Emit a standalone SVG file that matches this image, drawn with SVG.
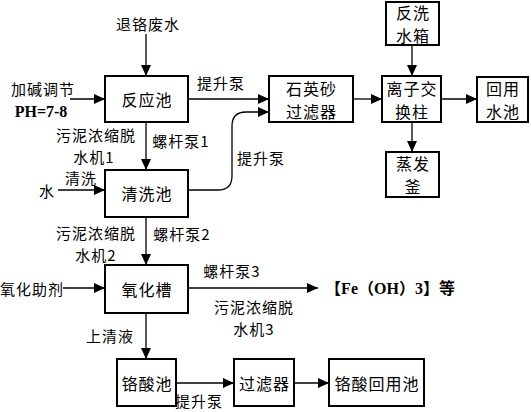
<svg xmlns="http://www.w3.org/2000/svg" width="531" height="412" viewBox="0 0 531 412">
<style>
.box{fill:#fff;stroke:#000;stroke-width:2}
.ln{fill:none;stroke:#000;stroke-width:1.3}
text{font-family:"Noto Sans CJK SC","Liberation Serif",serif;font-size:15px;letter-spacing:1px;fill:#000;text-anchor:middle;dominant-baseline:central}
.bt{font-size:16px;letter-spacing:1px}
.lat{font-family:"Liberation Serif","Noto Sans CJK SC",serif;font-weight:bold;font-size:16px;letter-spacing:0}
</style>
<defs>
<marker id="ah" markerUnits="userSpaceOnUse" markerWidth="12" markerHeight="10" refX="11" refY="5" orient="auto">
<path d="M0,0 L11,5 L0,10 Z" fill="#000"/>
</marker>
</defs>
<g id="connectors">
<line class="ln" x1="146" y1="34" x2="146" y2="76" marker-end="url(#ah)"/>
<line class="ln" x1="70" y1="99" x2="105" y2="99" marker-end="url(#ah)"/>
<line class="ln" x1="188" y1="99" x2="269" y2="99" marker-end="url(#ah)"/>
<path class="ln" d="M188,190 L218,190 Q232,190 232,176 L232,126 Q232,112 246,112 L269,112" marker-end="url(#ah)"/>
<line class="ln" x1="146" y1="122" x2="146" y2="170" marker-end="url(#ah)"/>
<line class="ln" x1="58" y1="190" x2="105" y2="190" marker-end="url(#ah)"/>
<line class="ln" x1="146" y1="217" x2="146" y2="265" marker-end="url(#ah)"/>
<line class="ln" x1="63" y1="288" x2="105" y2="288" marker-end="url(#ah)"/>
<line class="ln" x1="188" y1="288" x2="318" y2="288" marker-end="url(#ah)"/>
<line class="ln" x1="146" y1="313" x2="146" y2="359" marker-end="url(#ah)"/>
<line class="ln" x1="176" y1="383" x2="234" y2="383" marker-end="url(#ah)"/>
<line class="ln" x1="294" y1="383" x2="329" y2="383" marker-end="url(#ah)"/>
<line class="ln" x1="353" y1="99" x2="382" y2="99" marker-end="url(#ah)"/>
<line class="ln" x1="412" y1="45" x2="412" y2="76" marker-end="url(#ah)"/>
<line class="ln" x1="412" y1="122" x2="412" y2="152" marker-end="url(#ah)"/>
<line class="ln" x1="441" y1="99" x2="477" y2="99" marker-end="url(#ah)"/>
</g>
<g id="labels">
<text x="148" y="23">退铬废水</text>
<text x="43" y="88">加碱调节</text>
<text x="41" y="111" class="lat">PH=7-8</text>
<text x="221" y="82">提升泵</text>
<text x="96" y="134">污泥浓缩脱</text>
<text x="94" y="156">水机1</text>
<text x="181" y="140">螺杆泵1</text>
<text x="261" y="157">提升泵</text>
<text x="81" y="177">清洗</text>
<text x="47" y="190">水</text>
<text x="96" y="232">污泥浓缩脱</text>
<text x="96" y="254">水机2</text>
<text x="182" y="233">螺杆泵2</text>
<text x="32" y="288">氧化助剂</text>
<text x="232" y="270">螺杆泵3</text>
<text x="390" y="288" class="lat">【Fe（OH）3】等</text>
<text x="254" y="306">污泥浓缩脱</text>
<text x="254" y="328">水机3</text>
<text x="110" y="335">上清液</text>
<text x="199" y="400">提升泵</text>
</g>
<g id="n-reaction"><rect class="box" x="105" y="76" width="83" height="46"/><text class="bt" x="147" y="99">反应池</text></g>
<g id="n-wash"><rect class="box" x="105" y="170" width="83" height="47"/><text class="bt" x="147" y="193">清洗池</text></g>
<g id="n-oxid"><rect class="box" x="105" y="265" width="83" height="48"/><text class="bt" x="147" y="289">氧化槽</text></g>
<g id="n-chromic"><rect class="box" x="117" y="359" width="59" height="47"/><text class="bt" x="147" y="383">铬酸池</text></g>
<g id="n-filter"><rect class="box" x="234" y="359" width="60" height="47"/><text class="bt" x="264.5" y="383">过滤器</text></g>
<g id="n-reuse-chromic"><rect class="box" x="329" y="359" width="95" height="47"/><text class="bt" x="377" y="383">铬酸回用池</text></g>
<g id="n-sand"><rect class="box" x="269" y="76" width="84" height="46"/><text class="bt" x="311.5" y="87.5">石英砂</text><text class="bt" x="311.5" y="110.5">过滤器</text></g>
<g id="n-ion"><rect class="box" x="382" y="76" width="59" height="46"/><text class="bt" x="412" y="87.5">离子交</text><text class="bt" x="412" y="110.5">换柱</text></g>
<g id="n-backwash"><rect class="box" x="386" y="2" width="53" height="43"/><text class="bt" x="413" y="12">反洗</text><text class="bt" x="413" y="35">水箱</text></g>
<g id="n-evap"><rect class="box" x="386" y="152" width="53" height="45"/><text class="bt" x="413" y="163">蒸发</text><text class="bt" x="413" y="186">釜</text></g>
<g id="n-reuse-water"><rect class="box" x="477" y="77" width="51" height="45"/><text class="bt" x="503" y="88">回用</text><text class="bt" x="503" y="111">水池</text></g>
</svg>
